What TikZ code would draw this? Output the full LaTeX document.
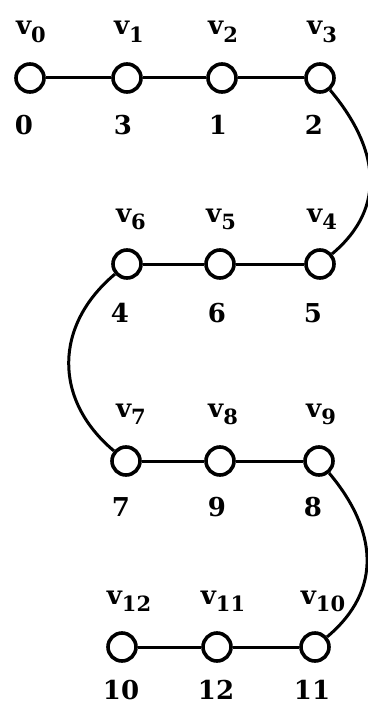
\documentclass[tikz,border=0pt]{standalone}
\usepackage{fontspec}
\setmainfont{DejaVu Serif}
\newcommand{\vsub}[1]{v\raisebox{-0.3em}{\fontsize{21}{21}\selectfont #1}}
\begin{document}
\begin{tikzpicture}[x=1pt,y=-1pt,
  vtx/.style={circle,draw,line width=3.6pt,minimum size=28pt,inner sep=0pt,fill=white},
  edge/.style={line width=3pt},
  lbl/.style={font=\fontsize{26}{28}\selectfont\bfseries,inner sep=0pt,anchor=base}]
\useasboundingbox (0,0) rectangle (367,706);
% nodes
\node[vtx] (v0) at (30,78) {};
\node[vtx] (v1) at (127,78) {};
\node[vtx] (v2) at (222,78) {};
\node[vtx] (v3) at (320,78) {};
\node[vtx] (v6) at (127,264) {};
\node[vtx] (v5) at (220,264) {};
\node[vtx] (v4) at (320,264) {};
\node[vtx] (v7) at (126,461) {};
\node[vtx] (v8) at (220,461) {};
\node[vtx] (v9) at (319,461) {};
\node[vtx] (v12) at (122,647) {};
\node[vtx] (v11) at (217,647) {};
\node[vtx] (v10) at (315,647) {};
% edges
\draw[edge] (v0) -- (v1) -- (v2) -- (v3);
\draw[edge] (v6) -- (v5) -- (v4);
\draw[edge] (v7) -- (v8) -- (v9);
\draw[edge] (v12) -- (v11) -- (v10);
\draw[edge] (v3) to[out=-50,in=40,looseness=1.15] (v4);
\draw[edge] (v6) to[out=-140,in=140,looseness=1.15] (v7);
\draw[edge] (v9) to[out=-50,in=40,looseness=1.15] (v10);
% vertex names
\node[lbl] (n0) at (31,35) {\vsub{0}};
\node[lbl] (n1) at (129,35) {\vsub{1}};
\node[lbl] (n2) at (223,35) {\vsub{2}};
\node[lbl] (n3) at (322,35) {\vsub{3}};
\node[lbl] (n6) at (131,222) {\vsub{6}};
\node[lbl] (n5) at (221,222) {\vsub{5}};
\node[lbl] (n4) at (322,222) {\vsub{4}};
\node[lbl] (n7) at (131,417) {\vsub{7}};
\node[lbl] (n8) at (223,417) {\vsub{8}};
\node[lbl] (n9) at (321,417) {\vsub{9}};
\node[lbl] (n12) at (129,604) {\vsub{12}};
\node[lbl] (n11) at (223,604) {\vsub{11}};
\node[lbl] (n10) at (323,604) {\vsub{10}};
% numbers
\node[lbl] (m0) at (24,134) {0};
\node[lbl] (m1) at (123,134) {3};
\node[lbl] (m2) at (218,134) {1};
\node[lbl] (m3) at (314,134) {2};
\node[lbl] (m6) at (120,322) {4};
\node[lbl] (m5) at (217,322) {6};
\node[lbl] (m4) at (313,322) {5};
\node[lbl] (m7) at (121,516) {7};
\node[lbl] (m8) at (217,516) {9};
\node[lbl] (m9) at (313,516) {8};
\node[lbl] (m12) at (121,699) {10};
\node[lbl] (m11) at (216,699) {12};
\node[lbl] (m10) at (312,699) {11};
\end{tikzpicture}
\end{document}
